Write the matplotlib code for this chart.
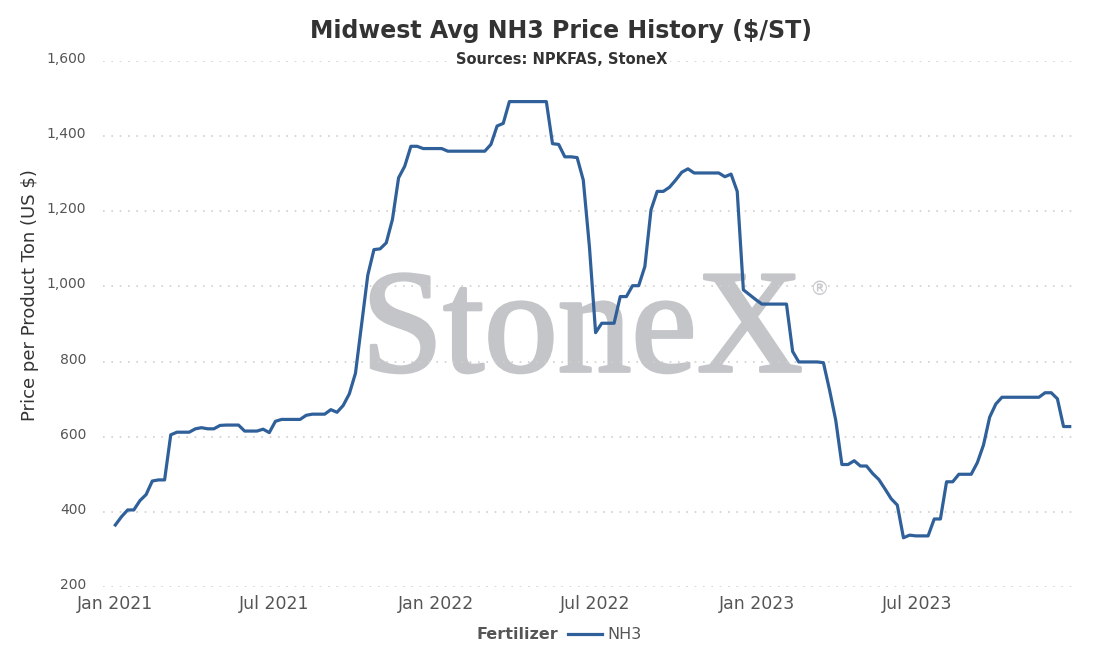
import pandas as pd
import matplotlib
matplotlib.use("Agg")
import matplotlib.pyplot as plt
import matplotlib.dates as mdates
import matplotlib.transforms as mtransforms
import matplotlib.patheffects as pe
from matplotlib.ticker import FuncFormatter, MultipleLocator

# weekly Midwest NH3 price, $/short ton
start_date = "2021-01-01"
nh3_prices = [
    365, 387, 405, 405, 430, 446, 482, 485, 485, 605,
    612, 612, 612, 621, 624, 621, 621, 630, 631, 631,
    631, 615, 615, 615, 620, 611, 641, 646, 646, 646,
    646, 657, 660, 660, 660, 672, 665, 683, 714, 769,
    900, 1030, 1098, 1100, 1116, 1178, 1289, 1320, 1373, 1373,
    1367, 1367, 1367, 1367, 1360, 1360, 1360, 1360, 1360, 1360,
    1360, 1378, 1427, 1434, 1492, 1492, 1492, 1492, 1492, 1492,
    1492, 1380, 1378, 1345, 1345, 1343, 1283, 1105, 877, 902,
    902, 902, 973, 973, 1002, 1002, 1053, 1204, 1253, 1253,
    1264, 1283, 1304, 1313, 1302, 1302, 1302, 1302, 1302, 1292,
    1299, 1253, 991, 978, 965, 953, 953, 953, 953, 953,
    827, 799, 799, 799, 799, 797, 724, 644, 526, 526,
    536, 522, 522, 502, 486, 461, 435, 418, 331, 338,
    336, 336, 336, 381, 381, 480, 480, 500, 500, 500,
    531, 578, 652, 687, 705, 705, 705, 705, 705, 705,
    705, 717, 717, 701, 627, 627,
]
dates = pd.date_range(start_date, periods=len(nh3_prices), freq="7D")

tick_dates = pd.to_datetime(["2021-01-01", "2021-07-01", "2022-01-01",
                             "2022-07-01", "2023-01-01", "2023-07-01"])

LINE_COLOR = "#30609a"
MARK_GREY = "#c3c5c8"

fig = plt.figure(figsize=(11.03, 6.64), dpi=100)
ax = fig.add_axes([0.0934, 0.116, 0.8812, 0.7921])

# StoneX watermark behind everything (regular serif, slightly thickened)
ax.text(0.493, 0.41, "StoneX", transform=ax.transAxes, ha="center", va="baseline",
        fontsize=106, family="Liberation Serif", color=MARK_GREY, zorder=0,
        path_effects=[pe.withStroke(linewidth=2.2, foreground=MARK_GREY)])
ax.text(0.737, 0.565, "®", transform=ax.transAxes, ha="center", va="center",
        fontsize=14, color="#c8c9cc", zorder=0)

ax.plot(dates, nh3_prices, color=LINE_COLOR, lw=2.3, zorder=3,
        solid_joinstyle="round", label="NH3")

ax.set_ylim(200, 1600)
ax.yaxis.set_major_locator(MultipleLocator(200))
ax.yaxis.set_major_formatter(FuncFormatter(lambda v, p: f"{v:,.0f}"))
ax.set_xlim(pd.Timestamp("2020-12-18"), pd.Timestamp("2023-12-28"))
ax.set_xticks(tick_dates)
ax.xaxis.set_major_formatter(mdates.DateFormatter("%b %Y"))

ax.grid(axis="y", color="#cfcfcf", lw=1.2, linestyle=(0, (1, 4)), zorder=1)
ax.set_axisbelow(False)
for s in ax.spines.values():
    s.set_visible(False)
ax.tick_params(axis="both", length=0)
ax.tick_params(axis="y", labelsize=10, labelcolor="#555555", pad=12)
ax.tick_params(axis="x", labelsize=12.5, labelcolor="#555555", pad=6)

# y tick labels sit a little above their gridlines
lift = mtransforms.ScaledTranslation(0, 2.5 / 72, fig.dpi_scale_trans)
for lbl in ax.get_yticklabels():
    lbl.set_transform(lbl.get_transform() + lift)

ax.set_ylabel("Price per Product Ton (US $)", fontsize=13, color="#333333")
ax.yaxis.set_label_coords(-0.066, 0.555)

fig.text(0.509, 0.953, "Midwest Avg NH3 Price History ($/ST)", ha="center", va="center",
         fontsize=17, fontweight="bold", color="#333333")
fig.text(0.509, 0.911, "Sources: NPKFAS, StoneX", ha="center", va="center",
         fontsize=10.5, fontweight="bold", color="#333333",
         bbox=dict(facecolor="white", edgecolor="none", pad=2))

# legend: bold group title on the left, then the series entry
fig.text(0.506, 0.044, "Fertilizer", ha="right", va="center",
         fontsize=11.5, fontweight="bold", color="#555555")
fig.legend(loc="center left", bbox_to_anchor=(0.502, 0.044), frameon=False,
           fontsize=11.5, handlelength=2.1, handletextpad=0.35, labelcolor="#555555")

fig.savefig("out.png", dpi=100, facecolor="white")
